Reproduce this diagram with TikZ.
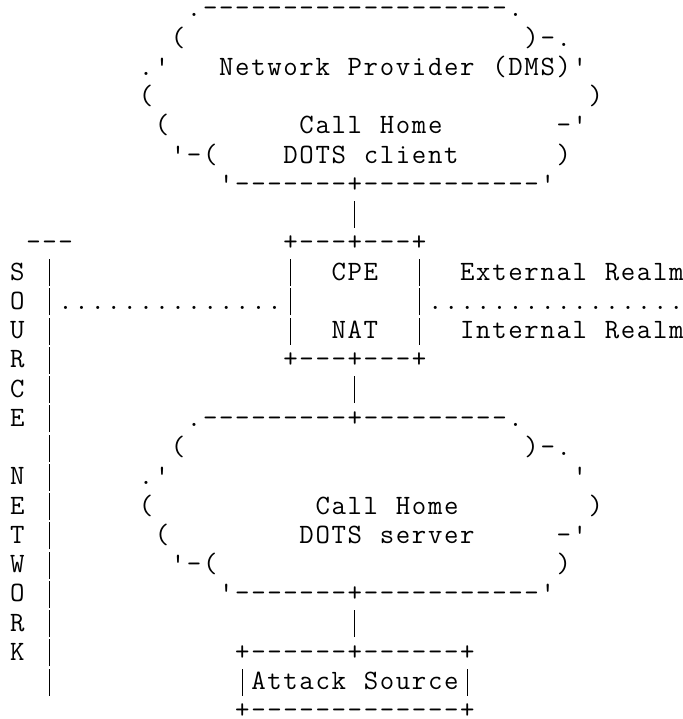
\documentclass[tikz,border=0pt]{standalone}
\usepackage{fontspec}
\usepackage{tikz}

% one character per fixed cell, so the columns line up;
% the bar is drawn as a rule, as tall as in the original
\makeatletter
\newlength\asciipitch
\setlength\asciipitch{16.07pt}
\def\ascii@bar{|}
\newcommand\asciirow[1]{\@tfor\ascii@c:=#1\do{\makebox[\asciipitch]{%
    \ifx\ascii@c\ascii@bar\rule[-6pt]{0.95pt}{27pt}\else\ascii@c\fi}}}
\makeatother

\tikzset{ascii/.style={anchor=base west, inner sep=0pt, outer sep=0pt,
    font=\ttfamily\fontsize{28}{29}\selectfont}}

\begin{document}
\begin{tikzpicture}[x=16.07pt, y=29.25pt]
    \useasboundingbox (-0.585,-0.427) rectangle (41.915,-25.008);

    % Network provider cloud
    \node[ascii] (row1) at (0,-1) {\asciirow{~~~~~~~~~~~.-------------------.}};
    \node[ascii] (row2) at (0,-2) {\asciirow{~~~~~~~~~~(~~~~~~~~~~~~~~~~~~~~~)-.}};
    \node[ascii] (row3) at (0,-3) {\asciirow{~~~~~~~~.'~~~Network~Provider~(DMS)'}};
    \node[ascii] (row4) at (0,-4) {\asciirow{~~~~~~~~(~~~~~~~~~~~~~~~~~~~~~~~~~~~)}};
    \node[ascii] (row5) at (0,-5) {\asciirow{~~~~~~~~~(~~~~~~~~Call~Home~~~~~~~-'}};
    \node[ascii] (row6) at (0,-6) {\asciirow{~~~~~~~~~~'-(~~~~DOTS~client~~~~~~)}};
    \node[ascii] (row7) at (0,-7) {\asciirow{~~~~~~~~~~~~~'-------+-----------'}};
    \node[ascii] (row8) at (0,-8) {\asciirow{~~~~~~~~~~~~~~~~~~~~~|}};

    % CPE / NAT box and the realm border
    \node[ascii] (row9) at (0,-9) {\asciirow{~---~~~~~~~~~~~~~+---+---+}};
    \node[ascii] (row10) at (0,-10) {\asciirow{S~|~~~~~~~~~~~~~~|~~CPE~~|~~External~Realm}};
    \node[ascii] (row11) at (0,-11) {\asciirow{O~|..............|~~~~~~~|................}};
    \node[ascii] (row12) at (0,-12) {\asciirow{U~|~~~~~~~~~~~~~~|~~NAT~~|~~Internal~Realm}};
    \node[ascii] (row13) at (0,-13) {\asciirow{R~|~~~~~~~~~~~~~~+---+---+}};
    \node[ascii] (row14) at (0,-14) {\asciirow{C~|~~~~~~~~~~~~~~~~~~|}};

    % DOTS server cloud
    \node[ascii] (row15) at (0,-15) {\asciirow{E~|~~~~~~~~.---------+---------.}};
    \node[ascii] (row16) at (0,-16) {\asciirow{~~|~~~~~~~(~~~~~~~~~~~~~~~~~~~~~)-.}};
    \node[ascii] (row17) at (0,-17) {\asciirow{N~|~~~~~.'~~~~~~~~~~~~~~~~~~~~~~~~~'}};
    \node[ascii] (row18) at (0,-18) {\asciirow{E~|~~~~~(~~~~~~~~~~Call~Home~~~~~~~~)}};
    \node[ascii] (row19) at (0,-19) {\asciirow{T~|~~~~~~(~~~~~~~~DOTS~server~~~~~-'}};
    \node[ascii] (row20) at (0,-20) {\asciirow{W~|~~~~~~~'-(~~~~~~~~~~~~~~~~~~~~~)}};
    \node[ascii] (row21) at (0,-21) {\asciirow{O~|~~~~~~~~~~'-------+-----------'}};
    \node[ascii] (row22) at (0,-22) {\asciirow{R~|~~~~~~~~~~~~~~~~~~|}};

    % Attack source box
    \node[ascii] (row23) at (0,-23) {\asciirow{K~|~~~~~~~~~~~+------+------+}};
    \node[ascii] (row24) at (0,-24) {\asciirow{~~|~~~~~~~~~~~|Attack~Source|}};
    \node[ascii] (row25) at (0,-25) {\asciirow{~~~~~~~~~~~~~~+-------------+}};

\end{tikzpicture}
\end{document}
